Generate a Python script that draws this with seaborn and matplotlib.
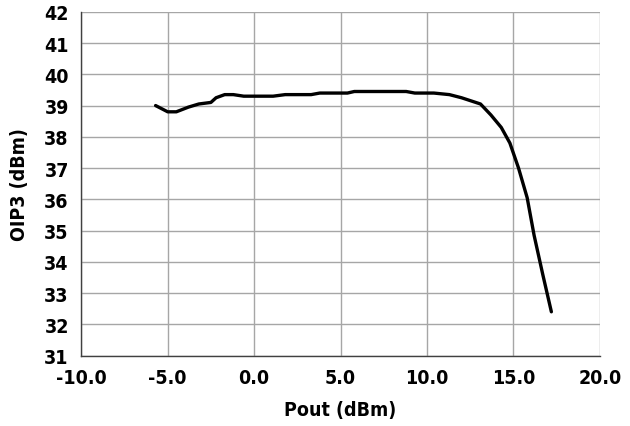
import pandas as pd
import numpy as np
import matplotlib
matplotlib.use("Agg")
import matplotlib.pyplot as plt
import seaborn as sns

# values
pout = [-5.7, -5.0, -4.5, -3.8, -3.2, -2.5, -2.2, -1.7, -1.2, -0.6, 0.5, 1.1,
        1.8, 3.3, 3.8, 5.4, 5.8, 8.8, 9.3, 10.4, 11.3, 12.0, 13.1, 13.7,
        14.3, 14.8, 15.3, 15.8, 16.2, 16.7, 17.2]
oip3 = [39.0, 38.8, 38.8, 38.95, 39.05, 39.1, 39.25, 39.35, 39.35, 39.3, 39.3, 39.3,
        39.35, 39.35, 39.4, 39.4, 39.45, 39.45, 39.4, 39.4, 39.35, 39.25, 39.05, 38.7,
        38.3, 37.8, 37.0, 36.05, 34.85, 33.6, 32.4]
x_ticks = [-10, -5, 0, 5, 10, 15, 20]
y_ticks = list(range(31, 43))

sns.set_style("white")
plt.rcParams['font.family'] = ['DejaVu Sans']
plt.rcParams['font.stretch'] = 'condensed'
plt.rcParams['font.weight'] = 'bold'
plt.rcParams['text.color'] = 'black'
plt.rcParams['axes.labelcolor'] = 'black'
plt.rcParams['xtick.color'] = 'black'
plt.rcParams['ytick.color'] = 'black'

df = pd.DataFrame({'Pout': pout, 'OIP3': oip3})

fig = plt.figure(figsize=(6.3, 4.27), dpi=100)
ax = fig.add_axes([0.129, 0.165, 0.823, 0.805])
ax.grid(True, color='#a6a6a6', linewidth=1.0)
sns.lineplot(data=df, x='Pout', y='OIP3', sort=False, color='black', linewidth=2.4, ax=ax)

ax.set_xlim(-10, 20)
ax.set_ylim(31, 42)
ax.set_xticks(x_ticks)
ax.set_xticklabels([f"{t:.1f}" for t in x_ticks])
ax.set_yticks(y_ticks)
ax.set_yticklabels([str(t) for t in y_ticks])
ax.tick_params(axis='both', which='both', direction='out', length=5, width=1,
               color='#404040', labelsize=14, pad=4)
for lab in ax.get_xticklabels() + ax.get_yticklabels():
    lab.set_fontweight('bold')
    lab.set_fontstretch('condensed')

for s in ['top', 'right']:
    ax.spines[s].set_visible(False)
for s in ['left', 'bottom']:
    ax.spines[s].set_color('#404040')
    ax.spines[s].set_linewidth(1.0)
ax.set_axisbelow(True)

ax.set_xlabel('Pout (dBm)', fontsize=14, fontweight='bold', fontstretch='condensed', labelpad=9)
ax.set_ylabel('OIP3 (dBm)', fontsize=14, fontweight='bold', fontstretch='condensed', labelpad=11)

fig.savefig('out.png', dpi=100)
